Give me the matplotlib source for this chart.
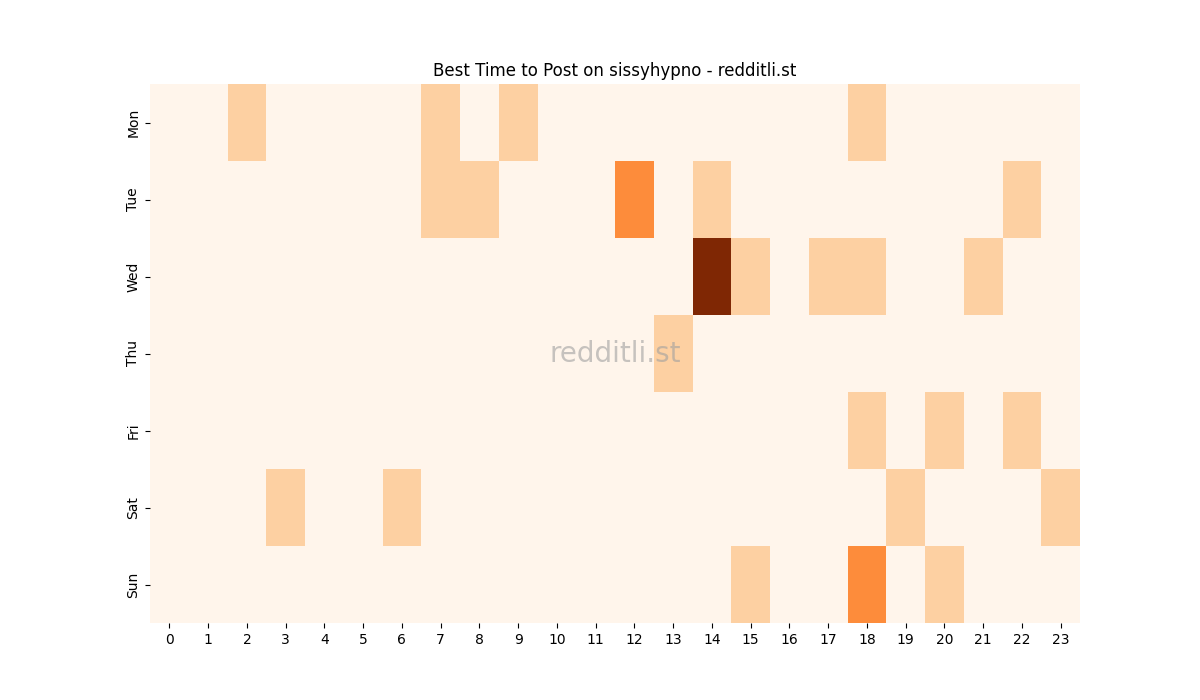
import matplotlib
matplotlib.use("Agg")
import matplotlib.pyplot as plt
import seaborn as sns
import numpy as np

days = ["Mon", "Tue", "Wed", "Thu", "Fri", "Sat", "Sun"]
hours = list(range(24))
mon = [0,0,1,0,0,0,0,1,0,1,0,0,0,0,0,0,0,0,1,0,0,0,0,0]
tue = [0,0,0,0,0,0,0,1,1,0,0,0,2,0,1,0,0,0,0,0,0,0,1,0]
wed = [0,0,0,0,0,0,0,0,0,0,0,0,0,0,4,1,0,1,1,0,0,1,0,0]
thu = [0,0,0,0,0,0,0,0,0,0,0,0,0,1,0,0,0,0,0,0,0,0,0,0]
fri = [0,0,0,0,0,0,0,0,0,0,0,0,0,0,0,0,0,0,1,0,1,0,1,0]
sat = [0,0,0,1,0,0,1,0,0,0,0,0,0,0,0,0,0,0,0,1,0,0,0,1]
sun = [0,0,0,0,0,0,0,0,0,0,0,0,0,0,0,1,0,0,2,0,1,0,0,0]
data = np.array([mon, tue, wed, thu, fri, sat, sun])

fig, ax = plt.subplots(figsize=(12, 7), dpi=100)
sns.heatmap(data, cmap="Oranges", cbar=False, ax=ax, xticklabels=hours, yticklabels=days)
ax.set_title("Best Time to Post on sissyhypno - redditli.st")
ax.text(0.5, 0.5, "redditli.st", transform=ax.transAxes, ha="center", va="center",
        fontsize=20, color="#a0a0a0", alpha=0.6)
fig.savefig("out.png")
